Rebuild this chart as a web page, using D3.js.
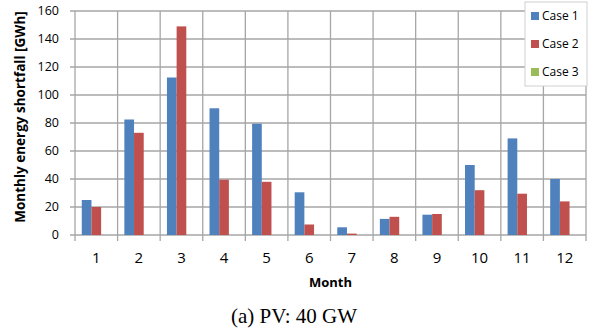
<!DOCTYPE html>
<html>
<head>
<meta charset="utf-8">
<script src="https://cdn.jsdelivr.net/npm/d3@7"></script>
<style>
  body { margin: 0; background: #fff; }
  svg { display: block; }
</style>
</head>
<body>
<svg id="chart" width="592" height="330"></svg>
<script>
// data
const months = ["1", "2", "3", "4", "5", "6", "7", "8", "9", "10", "11", "12"]
const cases = ["Case 1", "Case 2", "Case 3"]
const case1 = [25, 82.5, 112.5, 90.5, 79.5, 30.5, 5.5, 11.5, 14.5, 50, 69, 40]
const case2 = [20, 73, 149, 39.5, 38, 7.5, 1, 13, 15, 32, 29.5, 24]
const case3 = [0, 0, 0, 0, 0, 0, 0, 0, 0, 0, 0, 0]
const yTicks = [0, 20, 40, 60, 80, 100, 120, 140, 160]

const colors = ["#4f81bd", "#c0504d", "#9bbb59"]
const GRID = "#a6a6a6"

const svg = d3.select("#chart")
// plot area edges
const plotLeft = 75, plotRight = 586, plotTop = 11, plotBottom = 235

const series = [case1, case2, case3]
const table = months.map((m, i) => ({ month: m, values: series.map((s) => s[i]) }))

const x0 = d3.scaleBand().domain(months).range([plotLeft, plotRight]).paddingInner(0)
const x1 = d3.scaleBand().domain(cases).range([0, x0.bandwidth()]).paddingOuter(0.7)
const y = d3.scaleLinear().domain([0, 160]).range([plotBottom, plotTop])

// horizontal gridlines + left tick marks
svg.append("g")
  .selectAll("line")
  .data(yTicks)
  .enter()
  .append("line")
  .attr("x1", plotLeft - 5)
  .attr("x2", plotRight)
  .attr("y1", (d) => y(d))
  .attr("y2", (d) => y(d))
  .attr("stroke", GRID)
  .attr("stroke-width", 1.3)

// vertical gridlines at category edges, running down as ticks
const edges = months.map((m) => x0(m)).concat([plotRight])
svg.append("g")
  .selectAll("line")
  .data(edges)
  .enter()
  .append("line")
  .attr("x1", (d) => d)
  .attr("x2", (d) => d)
  .attr("y1", plotTop)
  .attr("y2", plotBottom + 6)
  .attr("stroke", GRID)
  .attr("stroke-width", 1.3)

// bars
const groups = svg.append("g")
  .selectAll("g")
  .data(table)
  .enter()
  .append("g")
  .attr("transform", (d) => `translate(${x0(d.month)},0)`)

groups.selectAll("rect")
  .data((d) => d.values.map((v, i) => ({ key: cases[i], value: v, i })))
  .enter()
  .append("rect")
  .attr("x", (d) => x1(d.key))
  .attr("width", x1.bandwidth())
  .attr("y", (d) => y(d.value))
  .attr("height", (d) => y(0) - y(d.value))
  .attr("fill", (d) => colors[d.i])

// y tick labels
svg.append("g")
  .selectAll("text")
  .data(yTicks)
  .enter()
  .append("text")
  .attr("x", 59)
  .attr("y", (d) => y(d))
  .attr("dy", "0.35em")
  .attr("text-anchor", "end")
  .attr("font-family", "Open Sans")
  .attr("font-size", 12.5)
  .attr("fill", "#000")
  .text((d) => d)

// x tick labels
svg.append("g")
  .selectAll("text")
  .data(months)
  .enter()
  .append("text")
  .attr("x", (d) => x0(d) + x0.bandwidth() / 2)
  .attr("y", 263)
  .attr("text-anchor", "middle")
  .attr("font-family", "Open Sans")
  .attr("font-size", 15)
  .attr("fill", "#000")
  .text((d) => d)

// axis titles
svg.append("text")
  .attr("x", (plotLeft + plotRight) / 2)
  .attr("y", 287)
  .attr("text-anchor", "middle")
  .attr("font-family", "Open Sans")
  .attr("font-weight", "bold")
  .attr("font-size", 13)
  .text("Month")

svg.append("text")
  .attr("transform", "translate(25,117) rotate(-90)")
  .attr("text-anchor", "middle")
  .attr("font-family", "Open Sans")
  .attr("font-weight", "bold")
  .attr("font-size", 13.5)
  .text("Monthly energy shortfall [GWh]")

// legend
const legend = svg.append("g").attr("transform", "translate(525,2)")
legend.append("rect")
  .attr("width", 62)
  .attr("height", 84)
  .attr("fill", "#fff")
  .attr("stroke", "#d0d0d0")
  .attr("stroke-width", 1)

const items = legend.selectAll("g.item")
  .data(cases)
  .enter()
  .append("g")
  .attr("class", "item")
  .attr("transform", (d, i) => `translate(6,${14 + i * 28})`)

items.append("rect")
  .attr("x", 0)
  .attr("y", -4)
  .attr("width", 8)
  .attr("height", 8)
  .attr("fill", (d, i) => colors[i])

items.append("text")
  .attr("x", 11)
  .attr("y", 0)
  .attr("dy", "0.35em")
  .attr("font-family", "Open Sans")
  .attr("font-size", 12)
  .text((d) => d)

// caption
svg.append("text")
  .attr("x", 294)
  .attr("y", 323)
  .attr("text-anchor", "middle")
  .attr("font-family", "Liberation Serif")
  .attr("font-size", 21)
  .text("(a) PV: 40 GW")
</script>
</body>
</html>
